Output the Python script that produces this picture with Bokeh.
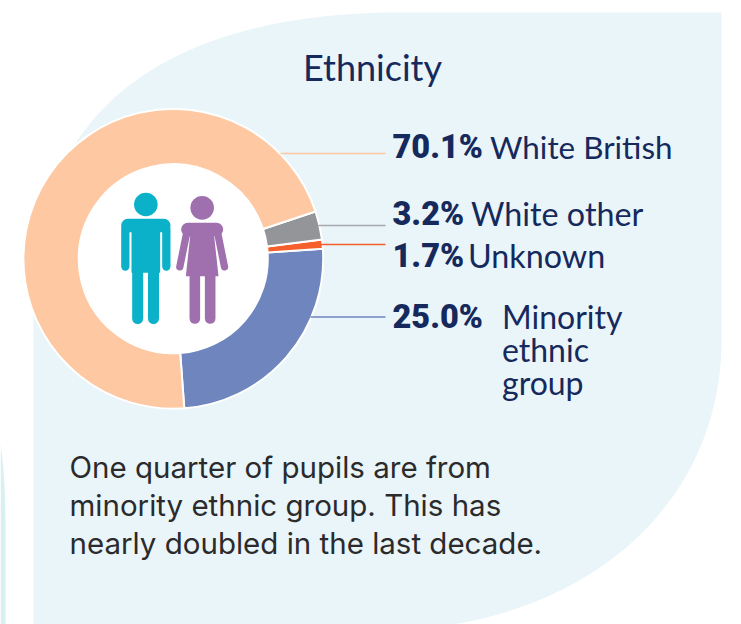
import numpy as np
from bokeh.embed import file_html
from bokeh.models import ColumnDataSource, Range1d
from bokeh.plotting import figure
from bokeh.resources import INLINE
from bokeh.core.properties import value

# ---- data ----
categories = ["Minority ethnic group", "Unknown", "White other", "White British"]
printed_values = ["25.0%", "1.7%", "3.2%", "70.1%"]
# slice shares as drawn in the picture (%)
drawn_shares = [24.9, 1.0, 3.05, 71.05]
slice_colors = ["#6F85BE", "#F55F2B", "#939598", "#FDC8A2"]
title = "Ethnicity"
body_lines = ["One quarter of pupils are from",
              "minority ethnic group. This has",
              "nearly doubled in the last decade."]
NAVY = "#16295C"
BG = "#E9F5F8"
W, H = 741, 624

p = figure(width=W, height=H, x_range=Range1d(0, W), y_range=Range1d(0, H),
           output_backend="svg", toolbar_location=None, min_border=0,
           outline_line_color=None, background_fill_color="white",
           border_fill_color="white", margin=0)
p.axis.visible = False
p.grid.visible = False
Y = lambda y: H - np.asarray(y, dtype=float)


def bez(p0, p1, p2, p3, n=60):
    t = np.linspace(0, 1, n)[:, None]
    a, b, c, d = map(np.array, (p0, p1, p2, p3))
    return (1-t)**3*a + 3*(1-t)**2*t*b + 3*(1-t)*t**2*c + t**3*d


# background shapes
tl = bez((33, 300), (33, 100), (180, 12), (400, 12))
br = bez((721, 340), (721, 480), (620, 600), (440, 626))
xs = [33] + list(tl[:, 0]) + [721] + list(br[:, 0]) + [33]
ys = [626] + list(tl[:, 1]) + [12] + list(br[:, 1]) + [626]
p.patch(xs, Y(ys), fill_color=BG, line_color=None)

strip = bez((0, 443), (3, 465), (5, 490), (5, 530), 30)
p.patch(list(strip[:, 0]) + [5, 0], Y(list(strip[:, 1]) + [626, 626]),
        fill_color="#D9F0F3", line_color=None)

# donut
cx, cy, R, r = 172.8, 258.3, 149.9, 94.5
start = np.radians(-85.8)
cum = np.cumsum([0] + drawn_shares) / sum(drawn_shares) * 2 * np.pi
src = ColumnDataSource(dict(start=start + cum[:-1], end=start + cum[1:],
                            color=slice_colors, name=categories))
p.annular_wedge(x=cx, y=float(Y(cy)), inner_radius=r, outer_radius=R,
                start_angle="start", end_angle="end", color="color",
                line_color="white", line_width=2, source=src)
p.circle(x=[cx], y=[float(Y(cy))], radius=r - 0.5, fill_color="white", line_color=None)

# connectors
conn_x0 = [310, 320, 318, 280]
conn_y = [316.5, 244, 225, 153]
p.segment(x0=conn_x0, y0=Y(conn_y), x1=[385] * 4, y1=Y(conn_y),
          line_color=slice_colors[:2] + ["#A7A9AC", "#FDC8A2"], line_width=1.5)


# people icons (coordinates from a 3x grid of the icon crop)
def zx(v):
    return 115 + np.asarray(v, dtype=float) / 3


def zy(v):
    return Y(185 + np.asarray(v, dtype=float) / 3)


def stroke(xv, yv, w, c):
    p.line(zx(xv), zy(yv), line_width=w, line_color=c, line_cap="round", line_join="round")


MAN, WOMAN = "#0BB1C8", "#A06FAE"
p.circle(x=[float(zx(91))], y=[float(zy(57))], radius=11.8, fill_color=MAN, line_color=None)
stroke([37, 145], [120, 120], 13.3, MAN)
stroke([29.5, 29.5], [130, 243], 8.3, MAN)
stroke([152.5, 152.5], [130, 243], 8.3, MAN)
p.patch(zx([48, 134, 134, 48]), zy([105, 105, 262, 262]), fill_color=MAN, line_color=None)
stroke([66.5, 66.5], [250, 399], 11, MAN)
stroke([114, 114], [250, 399], 11, MAN)

p.circle(x=[float(zx(260))], y=[float(zy(67))], radius=11.8, fill_color=WOMAN, line_color=None)
stroke([217, 303], [132, 132], 13.3, WOMAN)
stroke([212, 193], [150, 244], 7.3, WOMAN)
stroke([308, 327], [150, 244], 7.3, WOMAN)
p.patch(zx([228, 292, 309, 211]), zy([115, 115, 272, 272]), fill_color=WOMAN, line_color=None)
stroke([238, 238], [265, 399], 10.6, WOMAN)
stroke([284, 284], [265, 399], 10.6, WOMAN)


def label(x, y, txt, font, size, color=NAVY, style="normal"):
    p.text(x=[x], y=[float(Y(y))], text=[txt], text_font=value(font),
           text_font_size=f"{size}px", text_color=color, text_font_style=style,
           text_baseline="alphabetic", text_align="left")


label(302.5, 66.5, title, "Lato", 36)
lab_font, num_font = "Lato", "Roboto Black"
for txt, x, y in [(printed_values[3], 392, 146), (printed_values[2], 392, 213),
                  (printed_values[1], 392, 255), (printed_values[0], 392, 316)]:
    label(x, y, txt, num_font, 32.5, style="bold")
label(489.5, 146, "White British", lab_font, 31.4)
label(470.5, 213, "White other", lab_font, 32.3)
label(467.5, 255, "Unknown", lab_font, 32.3)
for txt, y in zip(["Minority", "ethnic", "group"], [316, 349, 382]):
    label(501.5, y, txt, lab_font, 32)
for txt, y in zip(body_lines, [466.5, 504.5, 542.5]):
    label(69, y, txt, "Inter", 29.5, color="#2B2A2C")

open("out.html", "w").write(file_html(p, INLINE))
